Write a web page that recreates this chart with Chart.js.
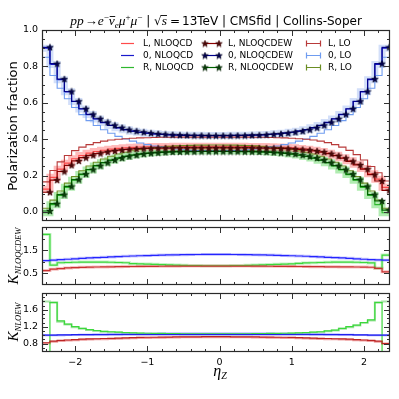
<!DOCTYPE html>
<html><head><meta charset="utf-8">
<script src="https://cdn.jsdelivr.net/npm/chart.js@4.4.0/dist/chart.umd.min.js"></script>
<style>
html,body{margin:0;padding:0;background:#fff;}
#wrap{position:relative;width:399px;height:399px;overflow:hidden;}
canvas{position:absolute;left:0;top:0;}
</style></head><body>
<div id="wrap">
<canvas id="c1" width="399" height="399"></canvas>
<canvas id="c2" width="399" height="399"></canvas>
<canvas id="c3" width="399" height="399"></canvas>
</div>
<script>
// ---------- data ----------
const etaEdges = [-2.45,-2.35,-2.25,-2.15,-2.05,-1.95,-1.85,-1.75,-1.65,-1.55,-1.45,-1.35,-1.25,-1.15,-1.05,-0.95,-0.85,-0.75,-0.65,-0.55,-0.45,-0.35,-0.25,-0.15,-0.05,0.05,0.15,0.25,0.35,0.45,0.55,0.65,0.75,0.85,0.95,1.05,1.15,1.25,1.35,1.45,1.55,1.65,1.75,1.85,1.95,2.05,2.15,2.25,2.35];

const fracL_NLOQCD = [0.125,0.190,0.235,0.268,0.292,0.310,0.323,0.332,0.339,0.345,0.349,0.352,0.355,0.357,0.358,0.359,0.360,0.360,0.361,0.361,0.361,0.361,0.361,0.361,0.361,0.361,0.361,0.361,0.360,0.360,0.359,0.358,0.357,0.355,0.352,0.349,0.345,0.339,0.332,0.323,0.311,0.298,0.281,0.262,0.238,0.210,0.180,0.135];
const fracZ_NLOQCD = [0.900,0.810,0.727,0.660,0.607,0.566,0.535,0.511,0.491,0.475,0.462,0.452,0.444,0.438,0.433,0.429,0.426,0.424,0.423,0.422,0.421,0.421,0.420,0.420,0.420,0.420,0.421,0.421,0.422,0.423,0.424,0.426,0.429,0.433,0.438,0.444,0.452,0.462,0.475,0.491,0.511,0.535,0.566,0.607,0.660,0.727,0.810,0.900];
const fracR_NLOQCD = [-0.005,0.040,0.090,0.135,0.174,0.205,0.231,0.252,0.270,0.284,0.296,0.305,0.313,0.319,0.324,0.327,0.330,0.332,0.333,0.334,0.335,0.335,0.335,0.335,0.335,0.335,0.335,0.335,0.334,0.333,0.332,0.330,0.327,0.324,0.319,0.313,0.305,0.296,0.284,0.270,0.252,0.231,0.205,0.174,0.135,0.090,0.040,-0.005];

const fracL_NLOQCDEW = [0.108,0.175,0.222,0.256,0.280,0.298,0.311,0.321,0.329,0.335,0.340,0.343,0.346,0.348,0.349,0.350,0.351,0.351,0.352,0.352,0.352,0.352,0.352,0.352,0.352,0.352,0.352,0.352,0.352,0.351,0.351,0.350,0.349,0.348,0.346,0.343,0.340,0.335,0.329,0.320,0.309,0.295,0.278,0.258,0.235,0.205,0.170,0.118];
const fracZ_NLOQCDEW = [0.905,0.815,0.730,0.662,0.608,0.567,0.536,0.512,0.492,0.476,0.463,0.452,0.444,0.438,0.433,0.429,0.426,0.424,0.422,0.421,0.420,0.420,0.419,0.419,0.419,0.419,0.420,0.420,0.421,0.422,0.424,0.426,0.429,0.433,0.438,0.444,0.452,0.463,0.476,0.492,0.512,0.536,0.567,0.608,0.662,0.730,0.815,0.905];
const fracR_NLOQCDEW = [0.005,0.045,0.095,0.140,0.178,0.208,0.233,0.254,0.271,0.285,0.296,0.305,0.312,0.318,0.322,0.325,0.327,0.329,0.330,0.331,0.331,0.332,0.332,0.332,0.332,0.332,0.332,0.331,0.331,0.330,0.329,0.327,0.325,0.322,0.318,0.312,0.305,0.296,0.285,0.271,0.254,0.233,0.208,0.178,0.140,0.095,0.060,0.010];

const fracL_LO = [0.165,0.228,0.275,0.310,0.337,0.356,0.370,0.381,0.389,0.395,0.399,0.402,0.405,0.407,0.408,0.409,0.410,0.410,0.411,0.411,0.411,0.411,0.411,0.411,0.411,0.411,0.411,0.411,0.411,0.410,0.410,0.409,0.408,0.407,0.405,0.402,0.399,0.395,0.389,0.381,0.370,0.356,0.338,0.315,0.285,0.250,0.215,0.170];
const fracZ_LO = [0.850,0.750,0.680,0.622,0.574,0.535,0.502,0.475,0.452,0.432,0.415,0.401,0.389,0.379,0.370,0.362,0.356,0.350,0.346,0.342,0.339,0.337,0.336,0.335,0.335,0.336,0.337,0.339,0.342,0.346,0.350,0.356,0.362,0.370,0.379,0.389,0.401,0.415,0.432,0.452,0.475,0.502,0.535,0.574,0.622,0.680,0.750,0.850];
const fracR_LO = [0.020,0.065,0.115,0.158,0.195,0.226,0.252,0.273,0.291,0.306,0.318,0.328,0.336,0.343,0.349,0.354,0.358,0.361,0.363,0.365,0.366,0.367,0.367,0.368,0.368,0.367,0.367,0.366,0.365,0.363,0.361,0.358,0.354,0.349,0.343,0.336,0.328,0.318,0.306,0.291,0.273,0.252,0.226,0.195,0.158,0.115,0.065,0.020];

// K_NLOQCDEW ratio panel
const kQcdEwL = [0.62,0.68,0.71,0.735,0.75,0.76,0.77,0.775,0.78,0.785,0.789,0.793,0.797,0.800,0.803,0.806,0.808,0.810,0.812,0.814,0.815,0.816,0.817,0.817,0.817,0.817,0.816,0.815,0.814,0.812,0.810,0.808,0.806,0.803,0.800,0.797,0.794,0.791,0.788,0.785,0.782,0.780,0.778,0.776,0.772,0.765,0.72,0.57];
const kQcdEwZ = [1.05,1.07,1.09,1.11,1.13,1.15,1.165,1.18,1.195,1.21,1.225,1.24,1.25,1.26,1.27,1.28,1.29,1.295,1.30,1.305,1.31,1.315,1.32,1.32,1.32,1.32,1.315,1.31,1.305,1.30,1.295,1.29,1.28,1.27,1.26,1.25,1.24,1.225,1.21,1.195,1.18,1.165,1.15,1.13,1.11,1.09,1.08,1.07];
const kQcdEwR = [2.18,0.86,0.96,0.97,0.98,0.99,0.99,0.99,0.99,0.98,0.97,0.96,0.92,0.91,0.90,0.89,0.88,0.87,0.86,0.85,0.84,0.84,0.83,0.83,0.83,0.83,0.84,0.84,0.85,0.86,0.87,0.88,0.89,0.90,0.91,0.93,0.95,0.96,0.97,0.98,0.99,0.99,0.99,0.98,0.97,0.95,0.72,1.29];

// K_NLOEW ratio panel
const kEwL = [0.82,0.86,0.875,0.885,0.895,0.905,0.910,0.915,0.920,0.925,0.930,0.935,0.940,0.945,0.950,0.950,0.955,0.955,0.960,0.960,0.960,0.960,0.965,0.965,0.965,0.965,0.960,0.960,0.960,0.960,0.955,0.955,0.950,0.950,0.945,0.940,0.935,0.930,0.925,0.920,0.915,0.910,0.905,0.895,0.885,0.875,0.860,0.800];
const kEwZ = [1.00,1.00,1.005,1.005,1.01,1.01,1.01,1.01,1.01,1.01,1.01,1.01,1.01,1.01,1.01,1.01,1.01,1.01,1.01,1.01,1.01,1.01,1.01,1.01,1.01,1.01,1.01,1.01,1.01,1.01,1.01,1.01,1.01,1.01,1.01,1.01,1.01,1.01,1.01,1.01,1.01,1.01,1.01,1.005,1.005,1.00,1.00,1.00];
const kEwR = [0.30,1.77,1.34,1.26,1.20,1.16,1.13,1.11,1.09,1.08,1.07,1.06,1.055,1.05,1.045,1.04,1.04,1.035,1.035,1.03,1.03,1.03,1.03,1.03,1.03,1.03,1.03,1.03,1.03,1.035,1.035,1.04,1.04,1.045,1.05,1.055,1.06,1.07,1.08,1.10,1.12,1.16,1.20,1.24,1.30,1.36,1.77,0.30];
const kEwL_lt = [0.80,0.845,0.86,0.87,0.88,0.89,0.895,0.90,0.905,0.91,0.915,0.92,0.925,0.93,0.935,0.94,0.94,0.945,0.945,0.95,0.95,0.95,0.95,0.95,0.95,0.95,0.95,0.95,0.95,0.945,0.945,0.94,0.94,0.935,0.93,0.925,0.92,0.915,0.91,0.905,0.90,0.895,0.89,0.88,0.87,0.86,0.845,0.80];
const kEwZ_lt = [1.00,1.00,1.00,1.005,1.005,1.01,1.01,1.015,1.015,1.02,1.02,1.025,1.025,1.03,1.035,1.035,1.04,1.04,1.04,1.04,1.04,1.04,1.04,1.04,1.04,1.04,1.04,1.04,1.04,1.04,1.04,1.04,1.035,1.035,1.03,1.025,1.025,1.02,1.02,1.015,1.015,1.01,1.01,1.005,1.005,1.00,1.00,1.00];
const kEwR_lt = [1.80,1.78,1.32,1.25,1.19,1.15,1.12,1.10,1.08,1.07,1.06,1.05,1.045,1.04,1.035,1.03,1.03,1.025,1.025,1.02,1.02,1.02,1.02,1.02,1.02,1.02,1.02,1.02,1.02,1.025,1.025,1.03,1.03,1.035,1.04,1.045,1.05,1.06,1.07,1.09,1.11,1.15,1.19,1.23,1.29,1.35,1.78,1.80];

const mainYTicks = [0.0,0.2,0.4,0.6,0.8,1.0];
const kQcdEwYTicks = [0.5,1.5];
const kEwYTicks = [0.8,1.2,1.6];
const etaTicks = [-2,-1,0,1,2];
const legendLabels = [['L, NLOQCD','0, NLOQCD','R, NLOQCD'],['L, NLOQCDEW','0, NLOQCDEW','R, NLOQCDEW'],['L, LO','0, LO','R, LO']];

// ---------- helpers ----------
const SANS = '"DejaVu Sans", sans-serif';
const SERIF = '"Liberation Serif", "DejaVu Serif", serif';
const X_MIN = -2.46, X_MAX = 2.36;

function steps(vals){
  const pts=[{x:etaEdges[0], y:vals[0]}];
  for(let i=0;i<vals.length;i++) pts.push({x:etaEdges[i+1], y:vals[i]});
  return pts;
}
function starImg(fill, stroke){
  const s=8, c=document.createElement('canvas'); c.width=s; c.height=s;
  const g=c.getContext('2d'); const cx=s/2, cy=s/2+0.3, R=3.5, r=1.5;
  g.beginPath();
  for(let i=0;i<10;i++){const a=-Math.PI/2+i*Math.PI/5; const rr=i%2===0?R:r; g.lineTo(cx+rr*Math.cos(a), cy+rr*Math.sin(a));}
  g.closePath(); g.fillStyle=fill; g.fill(); g.strokeStyle=stroke; g.lineWidth=0.6; g.stroke();
  return c;
}
function lineDs(label, vals, color, width, extra){
  return Object.assign({label, data:steps(vals), borderColor:color, backgroundColor:color, borderWidth:width,
    stepped:'after', pointRadius:0, pointHoverRadius:0, fill:false, clip:0, tension:0,
    borderJoinStyle:'miter', borderCapStyle:'butt'}, extra||{});
}
function range(a,b,s){const r=[];for(let v=a;v<=b+1e-9;v+=s)r.push(Math.round(v*1000)/1000);return r;}
function minus(arr, ex){return arr.filter(v=>!ex.some(e=>Math.abs(e-v)<1e-6));}

function drawRich(ctx, segs, cx, y){
  let w=0;
  segs.forEach(s=>{ctx.font=s.f; s.w=ctx.measureText(s.t).width; w+=s.w+(s.pl||0)+(s.pr||0);});
  let x=cx-w/2;
  ctx.textAlign='left'; ctx.textBaseline='alphabetic';
  segs.forEach(s=>{
    x+=(s.pl||0);
    ctx.font=s.f; ctx.fillText(s.t, x, y+(s.dy||0));
    if(s.bar){ctx.fillRect(x+s.bar[0], y+s.bar[1], s.w+s.bar[2], 0.9);}
    x+=s.w+(s.pr||0);
  });
}
function drawRotated(ctx, segs, cx, cy, base){
  ctx.save(); ctx.translate(cx, cy); ctx.rotate(-Math.PI/2); drawRich(ctx, segs, 0, base); ctx.restore();
}

const frameTicks = (xMaj, xMin, yMaj, yMin) => ({
  id:'frameTicks',
  afterDatasetsDraw(chart){
    const {ctx, chartArea:a, scales} = chart; const xs=scales.x, ys=scales.y;
    ctx.save(); ctx.strokeStyle='#333'; ctx.lineWidth=1;
    const dx=(vals,len)=>vals.forEach(v=>{const p=Math.round(xs.getPixelForValue(v))+0.5; if(p<=a.left||p>=a.right)return;
      ctx.beginPath(); ctx.moveTo(p,a.bottom); ctx.lineTo(p,a.bottom-len); ctx.moveTo(p,a.top); ctx.lineTo(p,a.top+len); ctx.stroke();});
    const dy=(vals,len)=>vals.forEach(v=>{const p=Math.round(ys.getPixelForValue(v))+0.5; if(p<=a.top||p>=a.bottom)return;
      ctx.beginPath(); ctx.moveTo(a.left,p); ctx.lineTo(a.left+len,p); ctx.moveTo(a.right,p); ctx.lineTo(a.right-len,p); ctx.stroke();});
    dx(xMaj,6); dx(xMin,3); dy(yMaj,6); dy(yMin,3);
    ctx.strokeStyle='#2a2a2a'; ctx.lineWidth=1.2;
    ctx.strokeRect(a.left+0.5, a.top+0.5, a.right-a.left-1, a.bottom-a.top-1);
    ctx.restore();
  }
});

function baseOptions(yMin, yMax, yTicks, padTop, padBottom, showX){
  return {
    responsive:false, animation:false, devicePixelRatio:1, events:[],
    layout:{padding:{left:0,right:9,top:padTop,bottom:padBottom}},
    plugins:{legend:{display:false}, tooltip:{enabled:false}, title:{display:false}},
    scales:{
      x:{type:'linear', min:X_MIN, max:X_MAX, display:showX,
         grid:{display:false, drawTicks:false}, border:{display:false},
         ticks:{color:'#000', font:{family:SANS, size:9.5}, padding:5, maxRotation:0,
                callback:v=> v<0 ? '\u2212'+Math.abs(v) : String(v)},
         afterBuildTicks:s=>{s.ticks=etaTicks.map(v=>({value:v}));},
         afterFit:s=>{s.height = showX ? 47 : 0;}},
      y:{type:'linear', min:yMin, max:yMax,
         grid:{display:false, drawTicks:false}, border:{display:false},
         ticks:{color:'#000', font:{family:SANS, size:9.5}, padding:4, callback:v=>Number(v).toFixed(1)},
         afterBuildTicks:s=>{s.ticks=yTicks.map(v=>({value:v}));},
         afterFit:s=>{s.width=42;}}
    }
  };
}

const xMajor = etaTicks, xMinor = minus(range(-2.4,2.2,0.2), etaTicks);

// ---------- chart 1: polarization fractions ----------
const colL_EW='#8b0000', colZ_EW='#00008b', colR_EW='#006400';
const colL_LO='#b83a3a', colZ_LO='#6f9cf0', colR_LO='#6b8e23';
const colL_QCD='#ff4a4a', colZ_QCD='#1a1acc', colR_QCD='#2eb82e';
const starL=starImg('#4a0a0a','#3a0000'), starZ=starImg('#000050','#000020'), starR=starImg('#0a400a','#002000');
const starOpt = img => ({pointStyle:img, pointRadius:c=>c.dataIndex===0?0:3.5});

const ds1 = [
  lineDs('L, NLOQCDEW', fracL_NLOQCDEW, colL_EW, 1.2, starOpt(starL)),
  lineDs('0, NLOQCDEW', fracZ_NLOQCDEW, colZ_EW, 1.2, starOpt(starZ)),
  lineDs('R, NLOQCDEW', fracR_NLOQCDEW, colR_EW, 1.2, starOpt(starR)),
  lineDs('L, LO', fracL_LO, colL_LO, 1.1),
  lineDs('0, LO', fracZ_LO, colZ_LO, 1.1),
  lineDs('R, LO', fracR_LO, colR_LO, 1.1),
  lineDs('L, NLOQCD', fracL_NLOQCD, colL_QCD, 1.1),
  lineDs('0, NLOQCD', fracZ_NLOQCD, colZ_QCD, 1.1),
  lineDs('R, NLOQCD', fracR_NLOQCD, colR_QCD, 1.1),
  lineDs('L band', fracL_NLOQCD, 'rgba(255,90,90,0.42)', 7),
  lineDs('0 band', fracZ_NLOQCD, 'rgba(110,150,235,0.30)', 7),
  lineDs('R band', fracR_NLOQCD, 'rgba(70,210,70,0.42)', 7)
];

const overlay1 = {
  id:'overlay1',
  afterDraw(chart){
    const ctx=chart.ctx; ctx.save(); ctx.fillStyle='#000';
    const fI=`italic 13.5px ${SERIF}`, fR=`13px ${SERIF}`, fS=`12px ${SANS}`, fSup=`9px ${SERIF}`, fSupI=`italic 9px ${SERIF}`;
    drawRich(ctx, [
      {t:'pp', f:fI, pr:1},{t:'\u2192', f:fR},{t:'e', f:fI},{t:'\u2212', f:fSup, dy:-5},
      {t:'\u03bd', f:fI, bar:[1,-9,-0.5]},{t:'e', f:fSupI, dy:3},{t:'\u03bc', f:fI},{t:'+', f:fSup, dy:-5},
      {t:'\u03bc', f:fI},{t:'\u2212', f:fSup, dy:-5},
      {t:' | ', f:fS},{t:'\u221a', f:fS},{t:'s', f:fI, bar:[-1,-10,1]},{t:'=', f:fS, pl:3, pr:2},
      {t:'13TeV | CMSfid | Collins-Soper', f:fS}
    ], 216, 25);
    drawRotated(ctx, [{t:'Polarization fraction', f:`13px ${SANS}`}], 12.5, 126, 4.5);
    const rows=[43,55,67];
    const qcdCols=[colL_QCD, colZ_QCD, colR_QCD], ewCols=[colL_EW,colZ_EW,colR_EW], loCols=[colL_LO,colZ_LO,colR_LO];
    const stars=[starL,starZ,starR];
    ctx.font=`9px ${SANS}`; ctx.textBaseline='middle'; ctx.textAlign='left';
    for(let r=0;r<3;r++){
      const y=rows[r]+0.5;
      ctx.strokeStyle=qcdCols[r]; ctx.lineWidth=1.2; ctx.beginPath(); ctx.moveTo(121,y); ctx.lineTo(134,y); ctx.stroke();
      ctx.fillStyle='#000'; ctx.fillText(legendLabels[0][r], 143, y);
      ctx.strokeStyle=ewCols[r]; ctx.beginPath(); ctx.moveTo(205,y); ctx.lineTo(219,y); ctx.stroke();
      ctx.drawImage(stars[r], 205-4, y-4); ctx.drawImage(stars[r], 219-4, y-4);
      ctx.fillText(legendLabels[1][r], 228, y);
      ctx.strokeStyle=loCols[r]; ctx.beginPath(); ctx.moveTo(306,y); ctx.lineTo(321,y);
      ctx.moveTo(306.5,y-3); ctx.lineTo(306.5,y+3); ctx.moveTo(320.5,y-3); ctx.lineTo(320.5,y+3); ctx.stroke();
      ctx.fillText(legendLabels[2][r], 328, y);
    }
    ctx.restore();
  }
};

new Chart(document.getElementById('c1'), {
  type:'line', data:{datasets:ds1},
  options: baseOptions(-0.05, 1.0, mainYTicks, 30, 178, false),
  plugins:[frameTicks(xMajor, xMinor, mainYTicks, minus(range(-0.05,1.0,0.05), mainYTicks)), overlay1]
});

// ---------- chart 2: K_NLOQCDEW ----------
const ds2 = [
  lineDs('K L', kQcdEwL, '#c83030', 1.2),
  lineDs('K 0', kQcdEwZ, '#2424ff', 1.2),
  lineDs('K R', kQcdEwR, '#3cd83c', 1.2),
  lineDs('K L halo', kQcdEwL, 'rgba(235,120,120,0.45)', 3),
  lineDs('K 0 halo', kQcdEwZ, 'rgba(130,130,255,0.40)', 3),
  lineDs('K R halo', kQcdEwR, 'rgba(140,230,140,0.50)', 3)
];
const overlay2 = {
  id:'overlay2',
  afterDraw(chart){
    const ctx=chart.ctx; ctx.save(); ctx.fillStyle='#000';
    drawRotated(ctx, [{t:'K', f:`italic 15px ${SERIF}`},{t:'NLOQCDEW', f:`italic 8.5px ${SERIF}`, dy:3}], 13, 256, 5);
    ctx.restore();
  }
};
new Chart(document.getElementById('c2'), {
  type:'line', data:{datasets:ds2},
  options: baseOptions(0, 2.5, kQcdEwYTicks, 227, 114, false),
  plugins:[frameTicks(xMajor, xMinor, kQcdEwYTicks, [1.0,2.0]), overlay2]
});

// ---------- chart 3: K_NLOEW ----------
const ds3 = [
  lineDs('KEW L', kEwL, '#bb2424', 1.2),
  lineDs('KEW 0', kEwZ, '#2020ee', 1.2),
  lineDs('KEW R', kEwR, '#3cd83c', 1.2),
  lineDs('KEW L lt', kEwL_lt, 'rgba(236,150,150,0.9)', 2),
  lineDs('KEW 0 lt', kEwZ_lt, 'rgba(150,150,255,0.9)', 2),
  lineDs('KEW R lt', kEwR_lt, 'rgba(160,225,160,0.9)', 2)
];
const overlay3 = {
  id:'overlay3',
  afterDraw(chart){
    const ctx=chart.ctx; ctx.save(); ctx.fillStyle='#000';
    drawRotated(ctx, [{t:'K', f:`italic 15px ${SERIF}`},{t:'NLOEW', f:`italic 8.5px ${SERIF}`, dy:3}], 13, 322, 5);
    drawRich(ctx, [{t:'\u03b7', f:`italic 16px ${SERIF}`},{t:'Z', f:`italic 10px ${SERIF}`, dy:3}], 220, 376);
    ctx.restore();
  }
};
new Chart(document.getElementById('c3'), {
  type:'line', data:{datasets:ds3},
  options: baseOptions(0.6, 2.0, kEwYTicks, 293, 0, true),
  plugins:[frameTicks(xMajor, xMinor, kEwYTicks, minus(range(0.7,1.9,0.1), kEwYTicks)), overlay3]
});
</script>
</body></html>
